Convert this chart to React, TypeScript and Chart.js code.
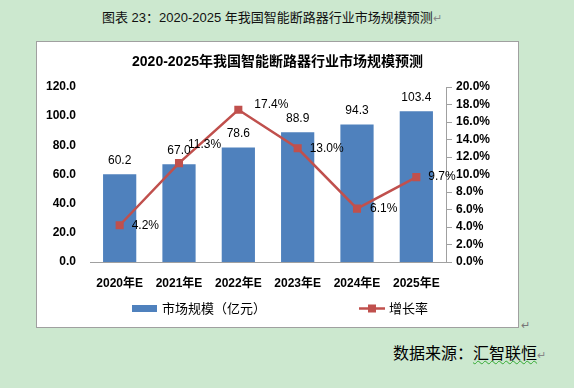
import React, { useEffect, useRef } from "react";
import { Chart, registerables } from "chart.js";

Chart.register(...registerables);

// ---- data ----
const categories = ["2020年E", "2021年E", "2022年E", "2023年E", "2024年E", "2025年E"];
const marketSize = [60.2, 67.0, 78.6, 88.9, 94.3, 103.4];
const growthRate = [4.2, 11.3, 17.4, 13.0, 6.1, 9.7];
const seriesNames = ["市场规模（亿元）", "增长率"];
const leftAxisMax = 120;
const leftAxisStep = 20;
const rightAxisMax = 20;
const rightAxisStep = 2;
const chartTitle = "2020-2025年我国智能断路器行业市场规模预测";
const captionText = "图表 23：2020-2025 年我国智能断路器行业市场规模预测";
const sourceLabel = "数据来源：";
const sourceName = "汇智联恒";

// ---- styles ----
const BAR_COLOR = "#4F81BD";
const LINE_COLOR = "#C0504D";
const AXIS_COLOR = "#A0A0A0";
const BG = "#CCE8CF";
const NUM_FONT = '"Liberation Sans", "Noto Sans CJK SC", sans-serif';
const CJK_FONT = '"Noto Sans CJK SC", "Liberation Sans", sans-serif';
const lineLabelOffsets: [number, number][] = [
  [12, 0],
  [9, -18],
  [16, -5],
  [12, 0],
  [13, 0],
  [12, 0],
];

const valueLabelPlugin = {
  id: "valueLabels",
  afterDatasetsDraw(chart: any) {
    const ctx = chart.ctx;
    ctx.save();
    ctx.fillStyle = "#000";
    ctx.font = `12px ${NUM_FONT}`;
    ctx.textBaseline = "middle";
    const barMeta = chart.getDatasetMeta(0);
    barMeta.data.forEach((el: any, i: number) => {
      ctx.textAlign = "center";
      ctx.fillText(marketSize[i].toFixed(1), el.x, el.y - 14);
    });
    const lineMeta = chart.getDatasetMeta(1);
    lineMeta.data.forEach((el: any, i: number) => {
      const [dx, dy] = lineLabelOffsets[i];
      ctx.textAlign = "left";
      ctx.fillText(growthRate[i].toFixed(1) + "%", el.x + dx, el.y + dy);
    });
    ctx.restore();
  },
};

const legendPlugin = {
  id: "customLegend",
  afterDraw(chart: any) {
    const ctx = chart.ctx;
    const ca = chart.chartArea;
    const y = ca.bottom + 46.5;
    ctx.save();
    // bar item
    const x1 = ca.left + 42;
    ctx.fillStyle = BAR_COLOR;
    ctx.fillRect(x1, y - 3.5, 25, 7);
    ctx.fillStyle = "#000";
    ctx.font = `13px ${CJK_FONT}`;
    ctx.textAlign = "left";
    ctx.textBaseline = "middle";
    ctx.fillText(chart.data.datasets[0].label, x1 + 30, y);
    // line item
    const x2 = ca.left + 269;
    ctx.strokeStyle = LINE_COLOR;
    ctx.lineWidth = 2.5;
    ctx.beginPath();
    ctx.moveTo(x2, y);
    ctx.lineTo(x2 + 26, y);
    ctx.stroke();
    ctx.fillStyle = LINE_COLOR;
    ctx.fillRect(x2 + 13 - 4, y - 4, 8, 8);
    ctx.fillStyle = "#000";
    ctx.fillText(chart.data.datasets[1].label, x2 + 30, y);
    ctx.restore();
  },
};

export default function App() {
  const canvasRef = useRef<HTMLCanvasElement | null>(null);

  useEffect(() => {
    if (!canvasRef.current) return;
    const chart = new Chart(canvasRef.current, {
      type: "bar",
      data: {
        labels: categories,
        datasets: [
          {
            type: "bar",
            label: seriesNames[0],
            data: marketSize,
            backgroundColor: BAR_COLOR,
            yAxisID: "y",
            order: 1,
            categoryPercentage: 1,
            barPercentage: 0.56,
          },
          {
            type: "line",
            label: seriesNames[1],
            data: growthRate,
            borderColor: LINE_COLOR,
            backgroundColor: LINE_COLOR,
            borderWidth: 2.5,
            pointStyle: "rect",
            pointRadius: 5.7,
            pointBorderWidth: 0,
            pointBackgroundColor: LINE_COLOR,
            yAxisID: "y1",
            order: 0,
            tension: 0,
          } as any,
        ],
      },
      options: {
        responsive: false,
        animation: false,
        devicePixelRatio: 1,
        layout: { padding: 0 },
        plugins: {
          legend: { display: false },
          tooltip: { enabled: false },
          title: {
            display: true,
            text: chartTitle,
            color: "#000",
            font: { family: NUM_FONT, size: 14, weight: "bold" },
            padding: { top: 11.6, bottom: 16.6 },
          },
        },
        scales: {
          x: {
            offset: true,
            grid: { display: false, drawTicks: false },
            border: { display: true, color: AXIS_COLOR, width: 1 },
            ticks: {
              color: "#000",
              font: { family: NUM_FONT, size: 12, weight: "bold" },
              padding: 14,
              maxRotation: 0,
            },
            afterFit(scale: any) {
              scale.height = 65;
            },
          },
          y: {
            position: "left",
            min: 0,
            max: leftAxisMax,
            grid: { display: false, drawTicks: false },
            border: { display: false },
            ticks: {
              stepSize: leftAxisStep,
              color: "#000",
              font: { family: NUM_FONT, size: 12, weight: "bold" },
              padding: 14,
              callback: (v: any) => Number(v).toFixed(1),
            },
            afterFit(scale: any) {
              scale.width = 53;
            },
          },
          y1: {
            position: "right",
            min: 0,
            max: rightAxisMax,
            grid: {
              display: true,
              drawOnChartArea: false,
              drawTicks: true,
              tickLength: 6,
              color: AXIS_COLOR,
            },
            border: { display: true, color: AXIS_COLOR, width: 1 },
            ticks: {
              stepSize: rightAxisStep,
              color: "#000",
              font: { family: NUM_FONT, size: 12, weight: "bold" },
              padding: 4,
              callback: (v: any) => Number(v).toFixed(1) + "%",
            },
            afterFit(scale: any) {
              scale.width = 72;
            },
          },
        },
      },
      plugins: [valueLabelPlugin, legendPlugin],
    } as any);
    return () => chart.destroy();
  }, []);

  return (
    <div
      style={{
        position: "absolute",
        left: 0,
        top: 0,
        width: 574,
        height: 388,
        background: BG,
        overflow: "hidden",
        fontFamily: CJK_FONT,
      }}
    >
      <div
        style={{
          position: "absolute",
          left: 102,
          top: 9,
          fontSize: 13,
          lineHeight: "18px",
          color: "#111",
          whiteSpace: "nowrap",
          fontFamily: NUM_FONT,
        }}
      >
        {captionText}
        <span style={{ color: "#888", fontSize: 11 }}>↵</span>
      </div>
      <div
        style={{
          position: "absolute",
          left: 36,
          top: 41,
          width: 481,
          height: 285,
          background: "#fff",
          border: `1px solid ${AXIS_COLOR}`,
        }}
      >
        <canvas
          ref={canvasRef}
          width={481}
          height={285}
          style={{ display: "block", width: 481, height: 285 }}
        />
      </div>
      <div
        style={{
          position: "absolute",
          left: 521,
          top: 316,
          fontSize: 11,
          color: "#777",
        }}
      >
        ↵
      </div>
      <div
        style={{
          position: "absolute",
          left: 393,
          top: 341,
          fontSize: 16,
          lineHeight: "22px",
          color: "#000",
          whiteSpace: "nowrap",
        }}
      >
        {sourceLabel}
        <span
          style={{
            textDecoration: "underline wavy #3a3",
            textDecorationThickness: 1,
          }}
        >
          {sourceName}
        </span>
        <span style={{ color: "#888", fontSize: 11 }}>↵</span>
      </div>
    </div>
  );
}
